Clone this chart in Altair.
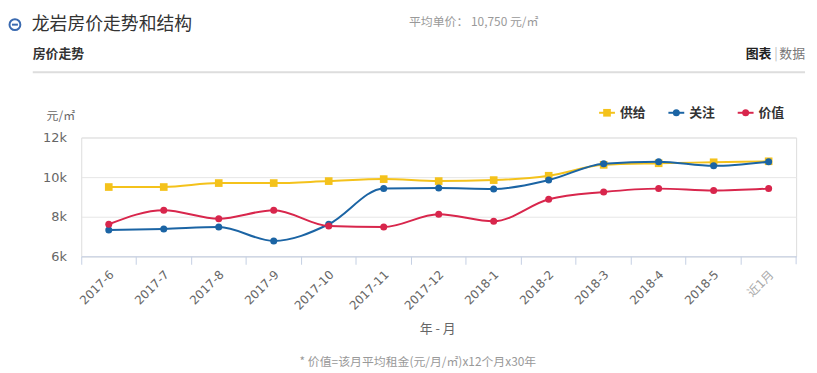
import altair as alt
import pandas as pd

# ---------------- data ----------------
months = ["2017-6", "2017-7", "2017-8", "2017-9", "2017-10", "2017-11", "2017-12",
          "2018-1", "2018-2", "2018-3", "2018-4", "2018-5", "近1月"]
supply = [9500, 9500, 9700, 9700, 9800, 9900, 9800, 9850, 10070, 10620, 10700, 10750, 10800]
attention = [7330, 7380, 7480, 6780, 7620, 9430, 9450, 9400, 9850, 10680, 10780, 10570, 10780]
value = [7620, 8330, 7900, 8330, 7530, 7480, 8130, 7770, 8880, 9250, 9420, 9320, 9420]

series_names = ["供给", "关注", "价值"]
series_values = [supply, attention, value]
series_colors = ["#F4C21B", "#1B64A4", "#D8264C"]
series_shapes = ["square", "circle", "circle"]
series_sizes = [60, 50, 50]

y_ticks = [6000, 8000, 10000, 12000]

title_text = "龙岩房价走势和结构"
avg_text = "平均单价：  10,750 元/㎡"
section_text = "房价走势"
unit_text = "元/㎡"
xaxis_title = "年 - 月"
footnote = "* 价值=该月平均租金(元/月/㎡)x12个月x30年"

CJK = "Noto Sans CJK SC"
NUM = "DejaVu Sans, Noto Sans CJK SC"

W, H = 722, 120

x_enc = alt.X(
    "month:N",
    sort=months,
    scale=alt.Scale(type="band", domain=months, paddingInner=0, paddingOuter=0),
    axis=alt.Axis(
        title=None, labelAngle=-45, labelAlign="right", labelBaseline="middle",
        labelPadding=8, tickSize=8, tickColor="#c4cfe4", domainColor="#c4cfe4",
        bandPosition=0, labelOffset=3, labelFontSize=12, labelFont=NUM,
        labelColor={"condition": {"test": "datum.value == '近1月'", "value": "#aaa"}, "value": "#666"},
        grid=False,
    ),
)
y_enc = alt.Y(
    "val:Q",
    scale=alt.Scale(domain=[6000, 12000], nice=False, zero=False),
    axis=alt.Axis(
        title=None, values=y_ticks, labelExpr="datum.value/1000 + 'k'",
        domain=False, ticks=False, grid=True, gridColor="#e6e6e6",
        labelPadding=15, labelFontSize=13, labelColor="#666", labelFont=NUM,
    ),
)

layers = []
for name, vals, col, shp, sz in zip(series_names, series_values, series_colors, series_shapes, series_sizes):
    df = pd.DataFrame({"month": months, "val": vals, "series": name})
    base = alt.Chart(df).encode(x=x_enc, y=y_enc)
    layers.append(base.mark_line(color=col, strokeWidth=2, interpolate="monotone"))
    layers.append(base.mark_point(shape=shp, filled=True, size=sz, color=col, opacity=1))

# final boundary tick of x axis
one = pd.DataFrame({"a": [0]})
layers.append(alt.Chart(one).mark_rule(color="#c4cfe4").encode(
    x=alt.value(W), y=alt.value(H), y2=alt.value(H + 8)))

def txt(t, x, y, size=12, color="#666", weight="normal", align="left", font=CJK):
    return alt.Chart(pd.DataFrame({"t": [t]})).mark_text(
        align=align, baseline="middle", fontSize=size, color=color,
        fontWeight=weight, font=font,
    ).encode(x=alt.value(x), y=alt.value(y), text="t:N")

# legend
leg_x = [523, 593, 663]
for name, col, shp, sz, lx in zip(series_names, series_colors, series_shapes, series_sizes, leg_x):
    d = pd.DataFrame({"s": [name]})
    layers.append(alt.Chart(d).mark_rule(color=col, strokeWidth=2).encode(
        x=alt.value(lx), x2=alt.value(lx + 16), y=alt.value(-25)))
    layers.append(alt.Chart(d).mark_point(shape=shp, filled=True, size=sz, color=col, opacity=1).encode(
        x=alt.value(lx + 8), y=alt.value(-25)))
    layers.append(txt(name, lx + 21, -25, size=13, color="#333", weight="bold"))

# header
HY = -114
layers.append(alt.Chart(one).mark_point(shape="circle", filled=False, size=120,
                                          color="#3a6ab0", strokeWidth=2, opacity=1).encode(
    x=alt.value(-67), y=alt.value(HY)))
layers.append(alt.Chart(one).mark_rule(color="#3a6ab0", strokeWidth=2).encode(
    x=alt.value(-70), x2=alt.value(-64), y=alt.value(HY)))
layers.append(txt(title_text, -50, HY, size=18, color="#333"))
layers.append(txt(avg_text, 331, HY - 3, size=12, color="#999"))
layers.append(txt(section_text, -49, -84, size=13, color="#333", weight="bold"))
layers.append(txt("图表", 671, -84, size=13, color="#222", weight="bold"))
layers.append(txt("|", 700, -84, size=13, color="#bbb"))
layers.append(txt("数据", 705, -84, size=13, color="#777"))
layers.append(alt.Chart(one).mark_rule(color="#dddddd", strokeWidth=2).encode(
    x=alt.value(-49), x2=alt.value(731), y=alt.value(-66)))
layers.append(txt(unit_text, -35, -22, size=12, color="#666"))
layers.append(txt(xaxis_title, 360, 193, size=13, color="#666", align="center"))
layers.append(txt(footnote, 340, 227, size=12, color="#999", align="center"))

chart = alt.layer(*layers).properties(
    width=W, height=H,
    autosize=alt.AutoSizeParams(type="none"),
    padding={"left": 74, "top": 129, "right": 13, "bottom": 116},
).configure_view(stroke=None).configure(background="white")

chart.save("out.html", embed_options={"renderer": "svg", "actions": False})
